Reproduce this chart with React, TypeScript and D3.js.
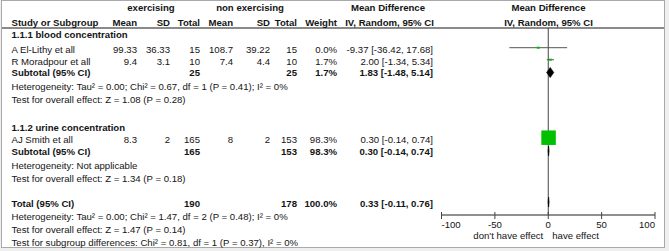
import React from "react";
import * as d3 from "d3";

const studies = ["A El-Lithy et all", "R Moradpour et all", "AJ Smith et all"];
const expMean = ["99.33", "9.4", "8.3"];
const expSD = ["36.33", "3.1", "2"];
const expN = [15, 10, 165];
const ctlMean = ["108.7", "7.4", "8"];
const ctlSD = ["39.22", "4.4", "2"];
const ctlN = [15, 10, 153];
const weights = [0.0, 1.7, 98.3];
const md = [-9.37, 2.0, 0.3];
const mdLo = [-36.42, -1.34, -0.14];
const mdHi = [17.68, 5.34, 0.74];

const groupNames = ["1.1.1 blood concentration", "1.1.2 urine concentration"];
const subExpN = [25, 165];
const subCtlN = [25, 153];
const subWeight = [1.7, 98.3];
const subMd = [1.83, 0.3];
const subLo = [-1.48, -0.14];
const subHi = [5.14, 0.74];
const subHet = [
  "Heterogeneity: Tau\u00b2 = 0.00; Chi\u00b2 = 0.67, df = 1 (P = 0.41); I\u00b2 = 0%",
  "Heterogeneity: Not applicable",
];
const subTest = [
  "Test for overall effect: Z = 1.08 (P = 0.28)",
  "Test for overall effect: Z = 1.34 (P = 0.18)",
];

const totExpN = 190;
const totCtlN = 178;
const totWeight = 100.0;
const totMd = 0.33;
const totLo = -0.11;
const totHi = 0.76;
const totNotes = [
  "Heterogeneity: Tau\u00b2 = 0.00; Chi\u00b2 = 1.47, df = 2 (P = 0.48); I\u00b2 = 0%",
  "Test for overall effect: Z = 1.47 (P = 0.14)",
  "Test for subgroup differences: Chi\u00b2 = 0.81, df = 1 (P = 0.37), I\u00b2 = 0%",
];

const axisTicks = [-100, -50, 0, 50, 100];
const axisDomain = [-100, 100];
const favourLeft = "don't have effect";
const favourRight = "have effect";

const W = 669;
const H = 251;
const FONT = "'Liberation Sans', Arial, sans-serif";
const FS = 9.6;
const TXT = "#141414";

const col = {
  study: 11.5,
  expMean: 137,
  expSD: 170,
  expN: 200,
  ctlMean: 233,
  ctlSD: 270,
  ctlN: 297,
  weight: 337,
  ci: 433,
};

const f2 = (v: number) => v.toFixed(2);
const fmtW = (w: number) => w.toFixed(1) + "%";
const ciText = (m: number, l: number, h: number) => `${f2(m)} [${f2(l)}, ${f2(h)}]`;

const rowY = {
  g: [34.5, 127.5],
  study: [49.5, 61.5, 139.5],
  sub: [72.5, 151],
  het: [86, 165],
  test: [99, 178],
  total: 203,
  notes: [216, 229, 242],
};

export default function App() {
  const x = d3.scaleLinear().domain(axisDomain).range([441.5, 655]);
  const axisY = 215;
  const topY = 28;
  const base = 3.5;

  const T = (
    key: string,
    tx: number,
    y: number,
    s: string,
    anchor: "start" | "middle" | "end" = "start",
    bold = false
  ) => (
    <text
      key={key}
      x={tx}
      y={y + base}
      textAnchor={anchor}
      fontWeight={bold ? "bold" : "normal"}
      fill={TXT}
    >
      {s}
    </text>
  );

  const diamond = (key: string, y: number, m: number, l: number, h: number) => {
    const hh = 5;
    const pts = [
      [x(l), y],
      [x(m), y - hh],
      [x(h), y],
      [x(m), y + hh],
    ];
    return (
      <polygon
        key={key}
        points={pts.map((p) => p.join(",")).join(" ")}
        fill="#000"
        stroke="#000"
        strokeWidth={0.7}
      />
    );
  };

  const els: React.ReactNode[] = [];

  // headers
  els.push(T("h-exp", 151, 7.5, "exercising", "middle", true));
  els.push(T("h-ctl", 250, 7.5, "non exercising", "middle", true));
  els.push(T("h-md1", 388, 7.5, "Mean Difference", "middle", true));
  els.push(T("h-md2", 548.5, 7.5, "Mean Difference", "middle", true));
  els.push(T("h-s", col.study, 22, "Study or Subgroup", "start", true));
  els.push(T("h-m1", col.expMean, 22, "Mean", "end", true));
  els.push(T("h-sd1", col.expSD, 22, "SD", "end", true));
  els.push(T("h-n1", col.expN, 22, "Total", "end", true));
  els.push(T("h-m2", col.ctlMean, 22, "Mean", "end", true));
  els.push(T("h-sd2", col.ctlSD, 22, "SD", "end", true));
  els.push(T("h-n2", col.ctlN, 22, "Total", "end", true));
  els.push(T("h-w", col.weight, 22, "Weight", "end", true));
  els.push(T("h-iv1", 389.5, 22, "IV, Random, 95% CI", "middle", true));
  els.push(T("h-iv2", 548.5, 22, "IV, Random, 95% CI", "middle", true));

  // groups
  groupNames.forEach((g, gi) => {
    els.push(T(`g${gi}`, col.study, rowY.g[gi], g, "start", true));
    els.push(T(`sub${gi}`, col.study, rowY.sub[gi], "Subtotal (95% CI)", "start", true));
    els.push(T(`subn1${gi}`, col.expN, rowY.sub[gi], String(subExpN[gi]), "end", true));
    els.push(T(`subn2${gi}`, col.ctlN, rowY.sub[gi], String(subCtlN[gi]), "end", true));
    els.push(T(`subw${gi}`, col.weight, rowY.sub[gi], fmtW(subWeight[gi]), "end", true));
    els.push(T(`subci${gi}`, col.ci, rowY.sub[gi], ciText(subMd[gi], subLo[gi], subHi[gi]), "end", true));
    els.push(T(`het${gi}`, col.study, rowY.het[gi], subHet[gi]));
    els.push(T(`test${gi}`, col.study, rowY.test[gi], subTest[gi]));
  });

  studies.forEach((s, i) => {
    const y = rowY.study[i];
    els.push(T(`s${i}`, col.study, y, s));
    els.push(T(`em${i}`, col.expMean, y, expMean[i], "end"));
    els.push(T(`es${i}`, col.expSD, y, expSD[i], "end"));
    els.push(T(`en${i}`, col.expN, y, String(expN[i]), "end"));
    els.push(T(`cm${i}`, col.ctlMean, y, ctlMean[i], "end"));
    els.push(T(`cs${i}`, col.ctlSD, y, ctlSD[i], "end"));
    els.push(T(`cn${i}`, col.ctlN, y, String(ctlN[i]), "end"));
    els.push(T(`w${i}`, col.weight, y, fmtW(weights[i]), "end"));
    els.push(T(`ci${i}`, col.ci, y, ciText(md[i], mdLo[i], mdHi[i]), "end"));
  });

  // total
  els.push(T("tot", col.study, rowY.total, "Total (95% CI)", "start", true));
  els.push(T("totn1", col.expN, rowY.total, String(totExpN), "end", true));
  els.push(T("totn2", col.ctlN, rowY.total, String(totCtlN), "end", true));
  els.push(T("totw", col.weight, rowY.total, fmtW(totWeight), "end", true));
  els.push(T("totci", col.ci, rowY.total, ciText(totMd, totLo, totHi), "end", true));
  totNotes.forEach((n, i) => els.push(T(`tn${i}`, col.study, rowY.notes[i], n)));

  // plot
  const plot: React.ReactNode[] = [];
  plot.push(
    <line key="vline" x1={x(0)} x2={x(0)} y1={topY} y2={axisY} stroke="#444" strokeWidth={1} />
  );
  studies.forEach((s, i) => {
    const y = rowY.study[i] - 1.8;
    plot.push(
      <line key={`cil${i}`} x1={x(mdLo[i])} x2={x(mdHi[i])} y1={y} y2={y} stroke="#555" strokeWidth={1} />
    );
    const side = 14.5 * Math.sqrt(weights[i] / 98.3);
    const wd = Math.max(3, side);
    const ht = Math.max(2, side);
    plot.push(
      <rect key={`sq${i}`} x={x(md[i]) - wd / 2} y={y - ht / 2} width={wd} height={ht} fill="#00c000" />
    );
  });
  groupNames.forEach((g, gi) =>
    plot.push(diamond(`d${gi}`, rowY.sub[gi], subMd[gi], subLo[gi], subHi[gi]))
  );
  plot.push(diamond("dt", rowY.total - 1, totMd, totLo, totHi));

  // axis
  plot.push(
    <line
      key="axis"
      x1={x(axisDomain[0])}
      x2={x(axisDomain[1])}
      y1={axisY}
      y2={axisY}
      stroke="#6a6a6a"
      strokeWidth={1.5}
    />
  );
  axisTicks.forEach((t, i) => {
    plot.push(
      <line key={`tk${i}`} x1={x(t)} x2={x(t)} y1={axisY - 3} y2={axisY + 4} stroke="#444" strokeWidth={1} />
    );
    const anchor = i === 0 ? "start" : i === axisTicks.length - 1 ? "end" : "middle";
    plot.push(T(`tl${i}`, x(t), 224.5, String(t), anchor as any));
  });
  plot.push(T("fl", x(0) - 5, 235, favourLeft, "end"));
  plot.push(T("fr", x(0) + 4, 235, favourRight, "start"));

  return (
    <svg
      width={W}
      height={H}
      style={{ position: "absolute", left: 0, top: 0, display: "block" }}
      fontFamily={FONT}
      fontSize={FS}
    >
      <rect x={0} y={0} width={W} height={H} fill="#efefef" />
      <rect x={1.5} y={0.5} width={663} height={247} fill="#fff" stroke="#a9a9a9" strokeWidth={1} />
      <line x1={2} x2={664} y1={topY} y2={topY} stroke="#8a8a8a" strokeWidth={2} />
      {els}
      {plot}
    </svg>
  );
}
